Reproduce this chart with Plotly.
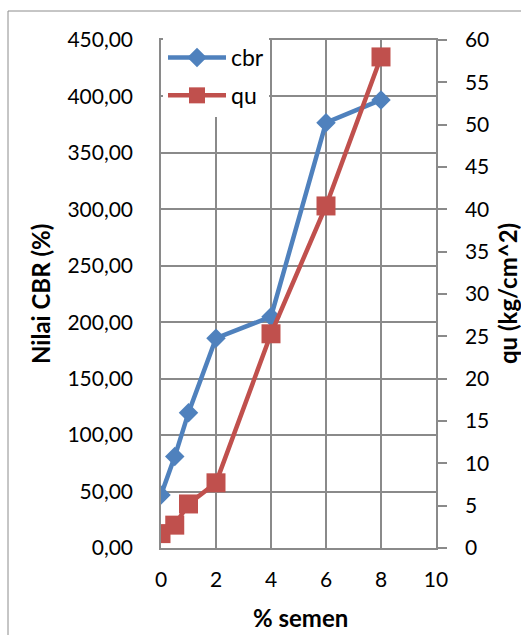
import plotly.graph_objects as go

# Cement content (% semen) and measured results
semen = [0, 0.5, 1, 2, 4, 6, 8]
cbr = [47.0, 81.0, 119.9, 185.9, 204.9, 376.8, 396.9]
qu = [1.7, 2.7, 5.2, 7.7, 25.3, 40.4, 58.0]

x_ticks = [0, 2, 4, 6, 8, 10]
cbr_ticks = list(range(0, 451, 50))
qu_ticks = list(range(0, 61, 5))

BLUE = "#4F81BD"
RED = "#C0504D"
GRID = "#8A8A8A"
FONT = "Lato"

W, H = 521, 635
L, R, T, B = 161, 85, 40, 87
pw, ph = W - L - R, H - T - B


def px_x(p):
    return (p - L) / pw


def px_y(p):
    return (H - B - p) / ph


fig = go.Figure()
fig.add_trace(go.Scatter(
    x=semen, y=cbr, name="cbr", mode="lines+markers", legendgroup="a",
    line=dict(color=BLUE, width=4.5),
    marker=dict(symbol="diamond", size=15, color=BLUE),
))
fig.add_trace(go.Scatter(
    x=semen, y=qu, name="qu", mode="lines+markers", legendgroup="b",
    yaxis="y2",
    line=dict(color=RED, width=4.5),
    marker=dict(symbol="square", size=19, color=RED),
))

axis_font = dict(family=FONT, size=21, color="black")
title_font = dict(family=FONT, size=24, color="black")

fig.update_layout(
    width=W, height=H,
    margin=dict(l=L, r=R, t=T, b=B, autoexpand=False),
    paper_bgcolor="white", plot_bgcolor="white",
    separators=",.",
    font=dict(family=FONT, size=21, color="black"),
    xaxis=dict(
        range=[0, 10], tickvals=x_ticks, ticks="",
        showgrid=True, gridcolor=GRID, gridwidth=1.5,
        showline=True, linecolor=GRID, linewidth=1.5, mirror=True,
        zeroline=False, tickfont=axis_font, ticklabelstandoff=12,
    ),
    yaxis=dict(
        range=[0, 450], tickvals=cbr_ticks, tickformat=".2f", ticks="",
        showgrid=True, gridcolor=GRID, gridwidth=1.5,
        showline=True, linecolor=GRID, linewidth=1.5, mirror=True,
        zeroline=False, tickfont=axis_font, ticklabelstandoff=22,
    ),
    yaxis2=dict(
        range=[0, 60], tickvals=qu_ticks, overlaying="y", side="right",
        showgrid=False, zeroline=False,
        showline=True, linecolor=GRID, linewidth=1.5,
        ticks="outside", ticklen=9, tickcolor=GRID, tickwidth=1.5,
        tickfont=axis_font, ticklabelstandoff=14,
    ),
    legend=dict(
        x=px_x(163), y=px_y(36), xanchor="left", yanchor="top",
        bgcolor="white", borderwidth=0, tracegroupgap=5, itemwidth=58,
        font=dict(family=FONT, size=23, color="black"),
    ),
    showlegend=True,
    shapes=[dict(
        type="rect", xref="paper", yref="paper",
        x0=px_x(8), y0=-2, x1=3, y1=px_y(11),
        line=dict(color="#8C8C8C", width=1), layer="below",
    )],
    annotations=[
        dict(text="<b>Nilai CBR (%)</b>", xref="paper", yref="paper",
             x=px_x(40), y=px_y(294), textangle=-90, showarrow=False,
             font=title_font, xanchor="center", yanchor="middle"),
        dict(text="<b>qu (kg/cm^2)</b>", xref="paper", yref="paper",
             x=px_x(507), y=px_y(294), textangle=-90, showarrow=False,
             font=title_font, xanchor="center", yanchor="middle"),
        dict(text="<b>% semen</b>", xref="paper", yref="paper",
             x=px_x(300), y=px_y(617), showarrow=False,
             font=title_font, xanchor="center", yanchor="middle"),
    ],
)

fig.write_html("out.html")
